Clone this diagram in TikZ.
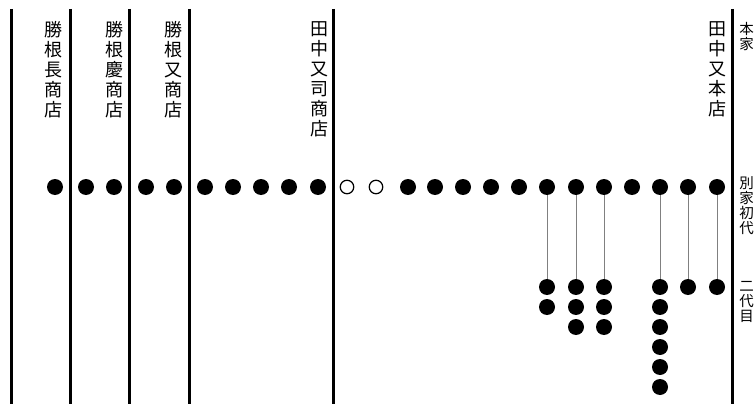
\documentclass[tikz,border=0pt]{standalone}
\usepackage{fontspec}
\newfontfamily\jp{Noto Sans CJK JP}
\begin{document}
\begin{tikzpicture}[x=1pt,y=-1pt,
  bar/.style={line width=3pt},
  fdot/.style={circle, fill=black, minimum size=16pt, inner sep=0pt},
  odot/.style={circle, draw=black, line width=1.2pt, fill=white, minimum size=13.5pt, inner sep=0pt},
  link/.style={draw=gray, line width=0.9pt},
  lab/.style={font=\jp\fontsize{18}{20}\selectfont, align=center, inner sep=0pt, anchor=north},
  sublab/.style={font=\jp\fontsize{14.5}{15.2}\selectfont, align=center, inner sep=0pt, anchor=north}]
\useasboundingbox (0,0) rectangle (756,404);
% bars
\foreach \x/\n in {11/a,70/b,129/c,189/d,333/e,732/f}{
  \coordinate (bt\n) at (\x,9);
  \coordinate (bb\n) at (\x,404);
  \draw[bar] (bt\n) -- (bb\n);
}
% labels
\node[lab] (l1) at (54,21) {勝\\根\\長\\商\\店};
\node[lab] (l2) at (114,21) {勝\\根\\慶\\商\\店};
\node[lab] (l3) at (173,21) {勝\\根\\又\\商\\店};
\node[lab] (l4) at (319,21) {田\\中\\又\\司\\商\\店};
\node[lab] (l5) at (717,21) {田\\中\\又\\本\\店};
\node[sublab] (r1) at (746.5,22) {本\\家};
\node[sublab] (r2) at (746.5,176) {別\\家\\初\\代};
\node[sublab] (r3) at (746.5,281) {二\\代\\目};
% first generation dots
\foreach \x [count=\i] in {55,86,114,146,174,205,233,261,289,318}
  \node[fdot] (d\i) at (\x,187) {};
\node[odot] (d11) at (347,187) {};
\node[odot] (d12) at (376,187) {};
\foreach \x [count=\i from 13] in {408,435,463,491,519,547,576,604,632,660,688,717}
  \node[fdot] (d\i) at (\x,187) {};
% second generation
\foreach \src/\x/\n in {18/547/2,19/576/3,20/604/3,22/660/6,23/688/1,24/717/1}{
  \foreach \k in {1,...,\n}{
    \node[fdot] (e\src-\k) at (\x,{287+20*(\k-1)}) {};
  }
  \draw[link] (d\src) -- (e\src-1);
}
\end{tikzpicture}
\end{document}
